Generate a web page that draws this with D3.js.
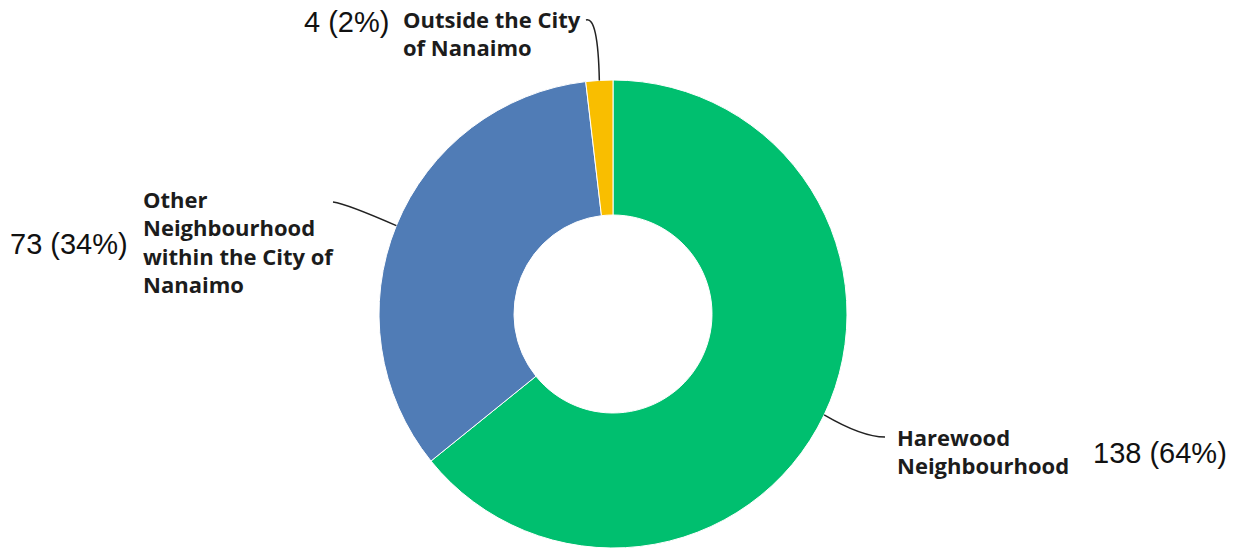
<!DOCTYPE html>
<html><head><meta charset="utf-8">
<script src="https://cdn.jsdelivr.net/npm/d3@7"></script>
<style>body{margin:0;background:#fff}svg{display:block}</style>
</head><body>
<svg id="c" width="1239" height="554"></svg>
<script>
const categories = ["Harewood Neighbourhood", "Other Neighbourhood within the City of Nanaimo", "Outside the City of Nanaimo"];
const values = [138, 73, 4];
const percents = ["64%", "34%", "2%"];
const colors = ["#00BF6F", "#507CB6", "#F9BE00"];
const labelLines = [["Harewood", "Neighbourhood"], ["Other", "Neighbourhood", "within the City of", "Nanaimo"], ["Outside the City", "of Nanaimo"]];

const svg = d3.select("#c");
const cx = 613, cy = 314, R = 234, r = 99;
const g = svg.append("g").attr("transform", `translate(${cx},${cy})`);
const pie = d3.pie().sort(null).value(d => d)(values);
const arc = d3.arc().innerRadius(r).outerRadius(R);
g.selectAll("path.s").data(pie).join("path").attr("class","s")
  .attr("d", arc).attr("fill", (d,i) => colors[i]).attr("stroke","#fff").attr("stroke-width",1);

const layout = [
  {lx: 897-cx, ly: 437-cy, end:[885-cx,437-cy], ctrl:[862-cx,437-cy], vx: 1093-cx, vy: 453-cy},
  {lx: 143-cx, ly: 199-cy, end:[333-cx,202-cy], ctrl:[347-cx,204-cy], vx: 10-cx, vy: 244-cy},
  {lx: 403-cx, ly: 19-cy, end:[586-cx,20-cy], ctrl:[598-cx,16-cy], vx: 304-cx, vy: 22-cy}
];
pie.forEach((d,i) => {
  const a = (d.startAngle + d.endAngle)/2;
  const sx = R*Math.sin(a), sy = -R*Math.cos(a);
  const L = layout[i];
  const p = d3.path();
  p.moveTo(sx, sy);
  p.quadraticCurveTo(L.ctrl[0], L.ctrl[1], L.end[0], L.end[1]);
  g.append("path").attr("d", p.toString()).attr("fill","none").attr("stroke","#222").attr("stroke-width",1.5);
  const t = g.append("text").attr("x", L.lx).attr("y", L.ly)
    .attr("font-family","'Open Sans', sans-serif").attr("font-weight","bold")
    .attr("font-size",22).attr("fill","#1c1c1c").attr("dominant-baseline","central");
  labelLines[i].forEach((ln,j) => t.append("tspan").attr("x", L.lx).attr("dy", j===0?0:28.3).text(ln));
  g.append("text").attr("x", L.vx).attr("y", L.vy).attr("dominant-baseline","central")
    .attr("font-family","'Liberation Sans', Arial, sans-serif").attr("font-size",29).attr("fill","#111")
    .text(`${values[i]} (${percents[i]})`);
});
</script>
</body></html>
